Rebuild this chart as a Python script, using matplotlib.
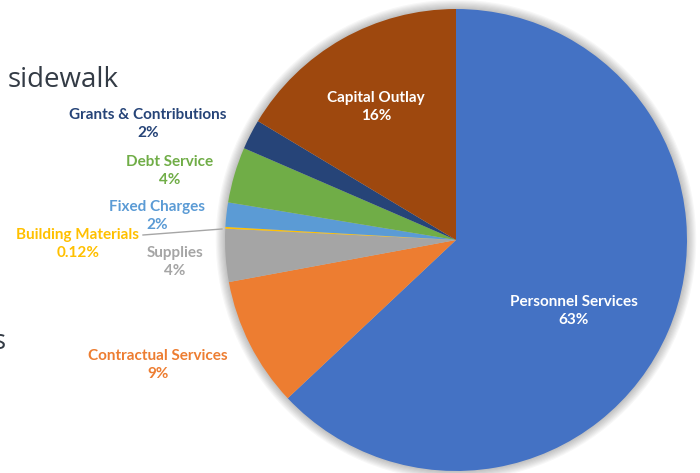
import matplotlib
matplotlib.use('Agg')
import matplotlib.pyplot as plt
from matplotlib.patches import Circle

# slice data, clockwise from 12 o'clock
categories = ['Personnel Services', 'Contractual Services', 'Supplies', 'Building Materials',
              'Fixed Charges', 'Debt Service', 'Grants & Contributions', 'Capital Outlay']
shares = [63.0, 9.1, 3.7, 0.12, 1.7, 3.9, 2.1, 16.4]
colors = ['#4472C4', '#ED7D31', '#A5A5A5', '#FFC000', '#5B9BD5', '#70AD47', '#264478', '#9E480E']
label_colors = ['white', '#ED7D31', '#A5A5A5', '#FFC000', '#5B9BD5', '#70AD47', '#264478', 'white']

W, H = 700, 473
plt.rcParams['font.family'] = ['Lato', 'DejaVu Sans']
fig = plt.figure(figsize=(W / 100, H / 100), dpi=100)
fig.patch.set_facecolor('white')

# pie center / radius in pixels
cx, cy, r = 456, 240, 231
ax = fig.add_axes([(cx - r) / W, (H - cy - r) / H, 2 * r / W, 2 * r / H])
ax.axis('off')

# soft shadow around the pie
for k in range(8):
    ax.add_patch(Circle((0, 0), 1.0 + 0.005 * (k + 1), color='#000000', alpha=0.03,
                        lw=0, zorder=0, clip_on=False))

ax.pie(shares, colors=colors, startangle=90, counterclock=False, radius=1,
       wedgeprops=dict(linewidth=0), frame=False)
ax.set_xlim(-1, 1)
ax.set_ylim(-1, 1)


def pct(v):
    return f'{v:.2f}%' if v < 1 else f'{v:.0f}%'


# label centres in pixels (x, y of the first line)
label_pos = [(574, 300), (158, 354), (175, 251), (78, 233),
             (157, 205), (170, 160), (148, 113), (376, 96)]

for name, v, col, (px, py) in zip(categories, shares, label_colors, label_pos):
    fig.text(px / W, 1 - (py + 11) / H, f'{name}\n{pct(v)}', color=col,
             ha='center', va='center', fontsize=11, fontweight='bold',
             linespacing=1.3)

# leader line for the thin slice
fig.add_artist(plt.Line2D([143 / W, 222 / W], [1 - 235 / H, 1 - 229 / H],
                          color='#A6A6A6', lw=1))

# leftover slide text
fig.text(8 / W, 1 - 87 / H, 'sidewalk', color='#333B45', fontsize=20,
         family=['Open Sans', 'DejaVu Sans'], va='baseline', ha='left')
fig.text(6 / W, 1 - 349 / H, 's', color='#333B45', fontsize=20,
         family=['Open Sans', 'DejaVu Sans'], va='baseline', ha='right')

fig.savefig('out.png', dpi=100, facecolor='white')
